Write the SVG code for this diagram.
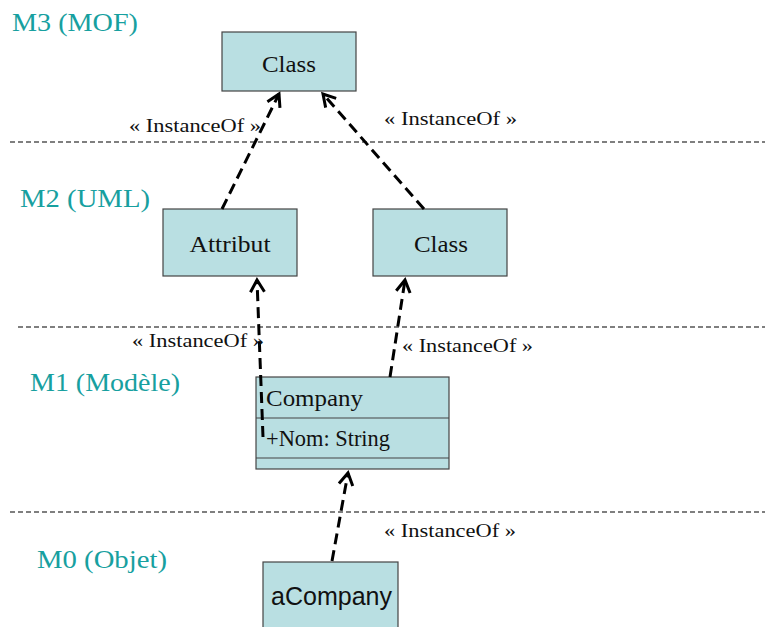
<svg xmlns="http://www.w3.org/2000/svg" width="765" height="627" viewBox="0 0 765 627">
<defs>
<style>
.lvl{font-family:"Liberation Serif",serif;font-size:26px;fill:#17a0a0}
.sep{stroke:#555;stroke-width:1.3;stroke-dasharray:5 3;fill:none}
.box{fill:#b9dfe2;stroke:#444;stroke-width:1.2}
.lbl{font-family:"Liberation Serif",serif;font-size:24px;fill:#111}
.io{font-family:"Liberation Serif",serif;font-size:19px;fill:#111}
.con{stroke:#000;stroke-width:3;stroke-dasharray:11 6;fill:none}
</style>
<marker id="open" markerUnits="userSpaceOnUse" markerWidth="30" markerHeight="30" viewBox="-15 -15 30 30" refX="0" refY="0" orient="auto">
<path d="M-12,-7 L0,0 L-12,7" fill="none" stroke="#000" stroke-width="3"/>
</marker>
</defs>
<rect width="765" height="627" fill="#fff"/>
<g id="levels">
<text class="lvl" x="12" y="31" textLength="126" lengthAdjust="spacingAndGlyphs">M3 (MOF)</text>
<text class="lvl" x="20" y="207" textLength="130" lengthAdjust="spacingAndGlyphs">M2 (UML)</text>
<text class="lvl" x="30" y="391" textLength="150" lengthAdjust="spacingAndGlyphs">M1 (Modèle)</text>
<text class="lvl" x="37" y="568" textLength="130" lengthAdjust="spacingAndGlyphs">M0 (Objet)</text>
<line class="sep" x1="10" y1="142" x2="765" y2="142"/>
<line class="sep" x1="18" y1="327" x2="765" y2="327"/>
<line class="sep" x1="10" y1="512" x2="765" y2="512"/>
</g>
<g id="m3-class">
<rect class="box" x="222" y="32" width="134" height="59"/>
<text class="lbl" x="289" y="72" text-anchor="middle" textLength="54" lengthAdjust="spacingAndGlyphs">Class</text>
</g>
<g id="m2-attribut">
<rect class="box" x="163" y="209" width="134" height="67"/>
<text class="lbl" x="230" y="252" text-anchor="middle" textLength="81" lengthAdjust="spacingAndGlyphs">Attribut</text>
</g>
<g id="m2-class">
<rect class="box" x="373" y="209" width="134" height="67"/>
<text class="lbl" x="441" y="252" text-anchor="middle" textLength="54" lengthAdjust="spacingAndGlyphs">Class</text>
</g>
<g id="m1-company">
<rect class="box" x="256" y="377" width="193" height="92"/>
<line x1="256" y1="418" x2="449" y2="418" stroke="#444" stroke-width="1.2"/>
<line x1="256" y1="458" x2="449" y2="458" stroke="#444" stroke-width="1.2"/>
<text class="lbl" x="266" y="406" textLength="97" lengthAdjust="spacingAndGlyphs">Company</text>
<text class="lbl" x="266" y="446" font-size="22" textLength="124" lengthAdjust="spacingAndGlyphs">+Nom: String</text>
</g>
<g id="m0-acompany">
<rect class="box" x="263" y="562" width="135" height="70"/>
<text x="271" y="605" font-family="Liberation Sans, Arial, sans-serif" font-size="25" fill="#111" textLength="121" lengthAdjust="spacingAndGlyphs">aCompany</text>
</g>
<g id="connectors">
<line class="con" x1="222" y1="209" x2="279" y2="94" marker-end="url(#open)"/>
<line class="con" x1="424" y1="209" x2="323" y2="94" marker-end="url(#open)"/>
<line class="con" x1="263" y1="437" x2="257" y2="280" marker-end="url(#open)"/>
<line class="con" x1="390" y1="377" x2="405" y2="280" marker-end="url(#open)"/>
<line class="con" x1="332" y1="561" x2="348" y2="473" marker-end="url(#open)"/>
<text class="io" x="129" y="132" textLength="132" lengthAdjust="spacingAndGlyphs">« InstanceOf »</text>
<text class="io" x="384" y="125" textLength="133" lengthAdjust="spacingAndGlyphs">« InstanceOf »</text>
<text class="io" x="132" y="347" textLength="132" lengthAdjust="spacingAndGlyphs">« InstanceOf »</text>
<text class="io" x="402" y="352" textLength="131" lengthAdjust="spacingAndGlyphs">« InstanceOf »</text>
<text class="io" x="384" y="537" textLength="132" lengthAdjust="spacingAndGlyphs">« InstanceOf »</text>
</g>
</svg>
